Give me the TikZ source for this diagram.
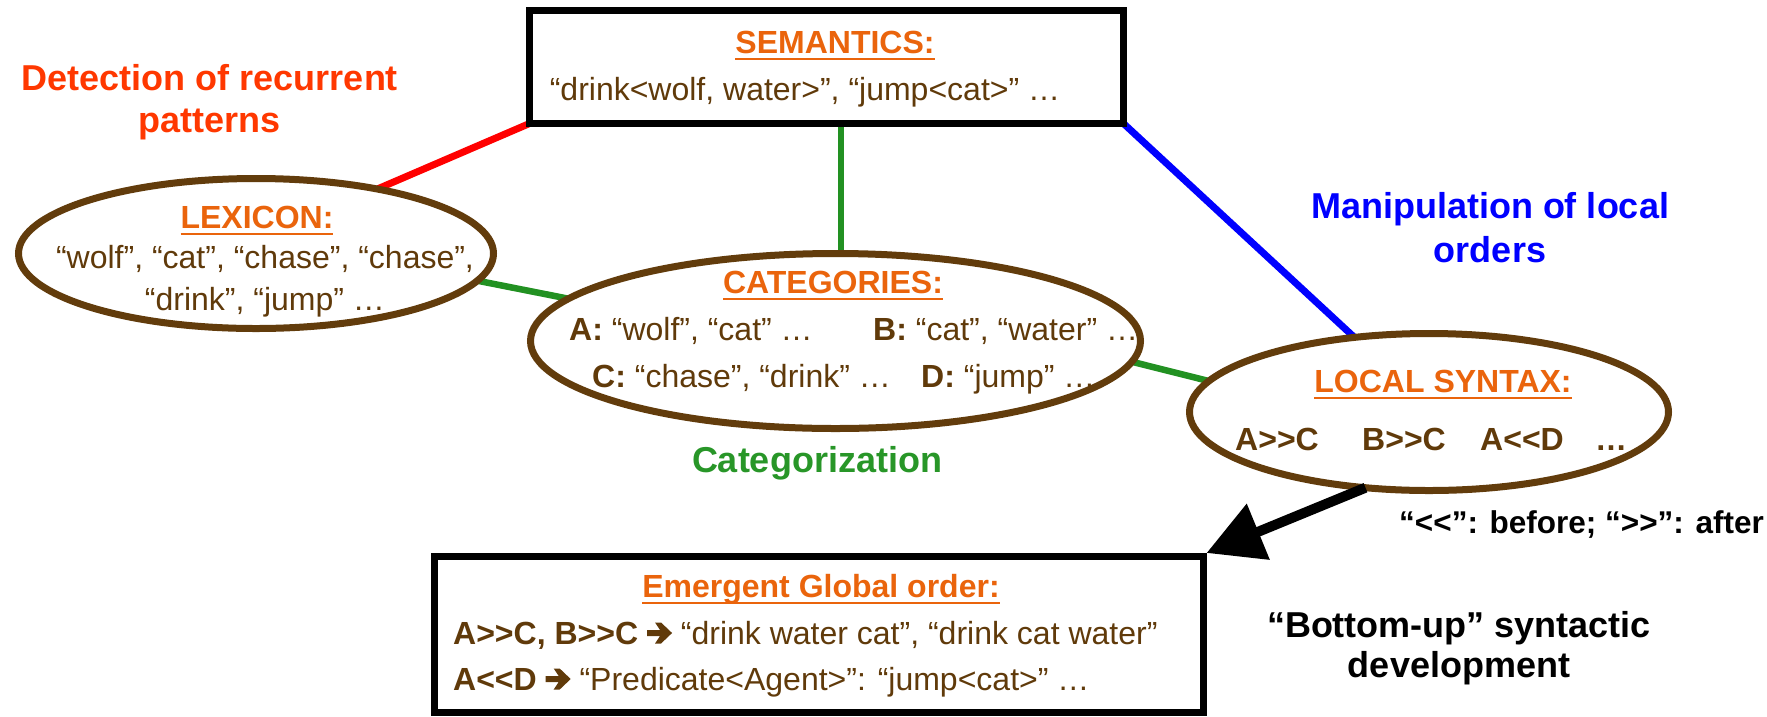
\documentclass[tikz,border=0pt]{standalone}
\usepackage{fontspec}
\setmainfont{Liberation Sans}
\usetikzlibrary{shapes.geometric,arrows.meta,backgrounds}
\definecolor{brn}{RGB}{96,58,10}
\definecolor{brnline}{RGB}{98,60,12}
\definecolor{org}{RGB}{234,100,12}
\definecolor{detred}{RGB}{255,56,0}
\definecolor{grn}{RGB}{40,150,40}
\definecolor{lgrn}{RGB}{34,145,34}
\newcommand\ulin[1]{\setbox0\hbox{#1}\dimen0=\wd0\rlap{\box0}\rule[-7pt]{\dimen0}{2.5pt}}
\newcommand\rarr{\tikz[baseline=0pt,x=1pt,y=1pt]\fill[brn] (0,8)--(13,8)--(8,0.5)--(14,0.5)--(25,11)--(14,21.5)--(8,21.5)--(13,14)--(0,14)--cycle;}
\begin{document}
\begin{tikzpicture}[x=1pt,y=-1pt,
  lbl/.style={inner sep=0, anchor=base, font=\fontsize{36}{43}\selectfont\bfseries},
  body/.style={inner sep=0, anchor=base, text=brn, font=\fontsize{32}{38}\selectfont},
  ttl/.style={inner sep=0, anchor=base, text=org, font=\fontsize{32}{38}\selectfont\bfseries},
  note/.style={inner sep=0, anchor=base, font=\fontsize{31.5}{38}\selectfont\bfseries},
  oval/.style={ellipse, draw=brnline, line width=7pt, fill=white, inner sep=0, outer sep=0},
  frame/.style={rectangle, draw=black, line width=7pt, fill=white, inner sep=0, outer sep=0},
  link/.style={line width=7pt}]
\useasboundingbox (0,0) rectangle (1767,716);

% shapes
\node[frame, minimum width=594pt, minimum height=113pt] (sem) at (826.5,67) {};
\node[oval, minimum width=475pt, minimum height=150pt] (lex) at (256,253.5) {};
\node[oval, minimum width=610pt, minimum height=175pt] (cat) at (835.5,341) {};
\node[oval, minimum width=479pt, minimum height=157pt] (loc) at (1429,412) {};
\node[frame, minimum width=769pt, minimum height=156pt] (emg) at (819,634.5) {};

% connectors
\coordinate (gtop) at (841,123.5);
\begin{pgfonlayer}{background}
\draw[link, red] (sem.south west) -- (lex.28);
\draw[link, lgrn, line width=6.5pt] (gtop) -- (gtop |- cat.north);
\draw[link, lgrn, line width=6.5pt] (lex.-7.7) -- (cat.171.9);
\draw[link, lgrn, line width=6.5pt] (cat.-4.7) -- (loc.172);
\draw[link, blue] (sem.south east) -- (loc.135.7);
\end{pgfonlayer}
\coordinate (tip) at (1206.5,553);
\draw[line width=10pt, -{Triangle[length=56pt,width=58pt]}] (loc.230.5) -- (tip);

% semantics
\node[ttl] (semt) at (835,53) {\ulin{SEMANTICS:}};
\node[body] (semb) at (805,100) {“drink<wolf, water>”, “jump<cat>” …};

% lexicon
\node[ttl] (lext) at (257,228) {\ulin{LEXICON:}};
\node[body] (lex1) at (265,268) {“wolf”, “cat”, “chase”, “chase”,};
\node[body] (lex2) at (265,310) {“drink”, “jump” …};

% categories
\node[ttl] (catt) at (833,293) {\ulin{CATEGORIES:}};
\node[body, anchor=base west] (catA) at (569,340) {\textbf{A:} “wolf”, “cat” …};
\node[body, anchor=base west] (catB) at (873,340) {\textbf{B:} “cat”, “water” …};
\node[body, anchor=base west] (catC) at (592,387) {\textbf{C:} “chase”, “drink” …};
\node[body, anchor=base west] (catD) at (921,387) {\textbf{D:} “jump” …};

% local syntax
\node[ttl] (loct) at (1443,392) {\ulin{LOCAL SYNTAX:}};
\node[body, anchor=base west, font=\fontsize{32}{38}\selectfont\bfseries] (l1) at (1235,450) {A>{}>C};
\node[body, anchor=base west, font=\fontsize{32}{38}\selectfont\bfseries] (l2) at (1362,450) {B>{}>C};
\node[body, anchor=base west, font=\fontsize{32}{38}\selectfont\bfseries] (l3) at (1480,450) {A<{}<D};
\node[body, anchor=base west, font=\fontsize{32}{38}\selectfont\bfseries] (l4) at (1595,450) {…};

% emergent
\node[ttl] (emgt) at (821,597) {\ulin{Emergent Global order:}};
\node[body, anchor=base west] (emg1) at (453,644) {\textbf{A>{}>C, B>{}>C} \rarr{} “drink water cat”, “drink cat water”};
\node[body, anchor=base west] (emg2) at (453,690) {\textbf{A<{}<D} \rarr{} “Predicate<Agent>”: “jump<cat>” …};

% side labels
\node[lbl, text=detred] (det1) at (210,90) {Detection of recurrent};
\node[lbl, text=detred] (det2) at (210,132) {patterns};
\node[lbl, text=grn] (catz) at (817,472) {Categorization};
\node[lbl, text=blue] (man1) at (1490,218) {Manipulation of local};
\node[lbl, text=blue] (man2) at (1490,262) {orders};
\node[note, anchor=base west] (legend) at (1399,533) {“<{}<”: before; “>{}>”: after};
\node[lbl] (bu1) at (1459,637) {“Bottom-up” syntactic};
\node[lbl] (bu2) at (1459,677) {development};
\end{tikzpicture}
\end{document}
